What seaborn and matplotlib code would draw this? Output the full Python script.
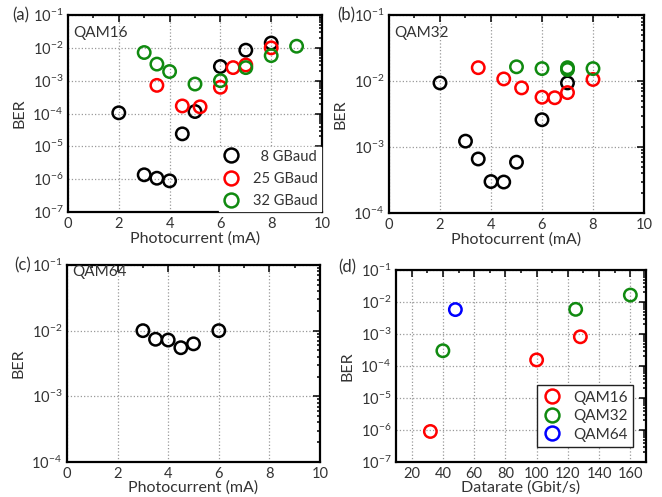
import numpy as np
import pandas as pd
import seaborn as sns
import matplotlib.pyplot as plt
from matplotlib.ticker import NullFormatter
from matplotlib.lines import Line2D

# (a) QAM16: BER vs photocurrent
a8_x = [2, 3, 3.5, 4, 4.5, 5, 6, 7, 8]
a8_ber = [1.05e-4, 1.36e-6, 1.07e-6, 8.9e-7, 2.4e-5, 1.15e-4, 2.7e-3, 8.5e-3, 1.4e-2]
a25_x = [3.5, 4.5, 5.2, 6, 6.5, 7, 8]
a25_ber = [7.2e-4, 1.7e-4, 1.6e-4, 6.3e-4, 2.5e-3, 3.0e-3, 1.0e-2]
a32_x = [3, 3.5, 4, 5, 6, 7, 8, 9]
a32_ber = [7.2e-3, 3.2e-3, 1.9e-3, 7.9e-4, 1.0e-3, 2.5e-3, 5.8e-3, 1.12e-2]

# (b) QAM32
b8_x = [2, 3, 3.5, 4, 4.5, 5, 6, 7]
b8_ber = [9.4e-3, 1.23e-3, 6.6e-4, 3.0e-4, 2.95e-4, 5.9e-4, 2.6e-3, 9.4e-3]
b25_x = [3.5, 4.5, 5.2, 6, 6.5, 7, 8]
b25_ber = [1.6e-2, 1.08e-2, 7.9e-3, 5.7e-3, 5.6e-3, 6.7e-3, 1.06e-2]
b32_x = [5, 6, 7, 7, 8]
b32_ber = [1.65e-2, 1.55e-2, 1.6e-2, 1.5e-2, 1.55e-2]

# (c) QAM64, 8 GBaud
c_x = [3, 3.5, 4, 4.5, 5, 6]
c_ber = [1.0e-2, 7.4e-3, 7.2e-3, 5.5e-3, 6.3e-3, 1.0e-2]

# (d) BER vs datarate
d16_rate = [32, 100, 128]
d16_ber = [9.0e-7, 1.55e-4, 8.2e-4]
d32_rate = [40, 125, 160]
d32_ber = [3.0e-4, 5.9e-3, 1.65e-2]
d64_rate = [48]
d64_ber = [5.8e-3]

baud_labels = ["  8 GBaud", "25 GBaud", "32 GBaud"]
qam_labels = ["QAM16", "QAM32", "QAM64"]
baud_colors = ["black", "#ff0000", "#108a10"]
qam_colors = ["#ff0000", "#108a10", "#0000ff"]

pc_ticks = [0, 2, 4, 6, 8, 10]
rate_ticks = [20, 40, 60, 80, 100, 120, 140, 160]


def frame(xs, ys, labels):
    parts = []
    for x, y, lab in zip(xs, ys, labels):
        parts.append(pd.DataFrame({"x": x, "ber": y, "series": lab}))
    return pd.concat(parts, ignore_index=True)


df_a = frame([a8_x, a25_x, a32_x], [a8_ber, a25_ber, a32_ber], baud_labels)
df_b = frame([b8_x, b25_x, b32_x], [b8_ber, b25_ber, b32_ber], baud_labels)
df_c = frame([c_x], [c_ber], baud_labels[:1])
df_d = frame([d16_rate, d32_rate, d64_rate], [d16_ber, d32_ber, d64_ber], qam_labels)

sns.set_style("white")
plt.rcParams["font.family"] = ["Lato", "DejaVu Sans"]
plt.rcParams["mathtext.default"] = "regular"

fig = plt.figure(figsize=(6.62, 4.97), dpi=100)
ax_a = fig.add_axes([0.1027, 0.5734, 0.3837, 0.3964])
ax_b = fig.add_axes([0.5876, 0.5714, 0.3852, 0.3980])
ax_c = fig.add_axes([0.1012, 0.0704, 0.3822, 0.3964])
ax_d = fig.add_axes([0.5982, 0.0704, 0.3776, 0.3863])


def draw(ax, df, labels, colors):
    sns.scatterplot(data=df, x="x", y="ber", hue="series", hue_order=labels,
                    palette=dict(zip(labels, colors)), s=80, linewidth=1.8,
                    ax=ax, legend=False, zorder=3)
    for coll in ax.collections:
        fc = coll.get_facecolors()
        coll.set_edgecolors(fc)
        coll.set_facecolors("none")


def style(ax, lo_exp, xlim, xticks, xlabel):
    ax.set_yscale("log")
    ax.set_ylim(10.0 ** lo_exp, 1e-1)
    ax.set_xlim(*xlim)
    step = xticks[1] - xticks[0]
    minor = [t for t in np.arange(xlim[0], xlim[1] + 1e-9, step / 2)
             if t not in xticks]
    ax.set_xticks(xticks)
    ax.set_xticks(minor, minor=True)
    exps = range(lo_exp, 0)
    ax.set_yticks([10.0 ** e for e in exps],
                  [f"$10^{{{e}}}$" for e in exps])
    ax.set_yticks([k * 10.0 ** e for e in range(lo_exp, -1) for k in range(2, 10)],
                  minor=True)
    ax.yaxis.set_minor_formatter(NullFormatter())
    ax.tick_params(which="both", direction="in", top=True, right=True,
                   labelsize=10.5, colors="#333333", width=1.1)
    ax.tick_params(which="both", color="black")
    ax.tick_params(which="major", length=5)
    ax.tick_params(which="minor", length=2.5)
    ax.grid(True, which="major", ls=":", color="#999999", lw=0.9)
    for sp in ax.spines.values():
        sp.set_linewidth(1.6)
        sp.set_color("black")
    ax.set_xlabel(xlabel, fontsize=11.5, color="#333333", labelpad=0)
    ax.set_ylabel("BER", fontsize=11.5, color="#333333", labelpad=4)


draw(ax_a, df_a, baud_labels, baud_colors)
draw(ax_b, df_b, baud_labels, baud_colors)
draw(ax_c, df_c, baud_labels[:1], baud_colors[:1])
draw(ax_d, df_d, qam_labels, qam_colors)

style(ax_a, -7, (0, 10), pc_ticks, "Photocurrent (mA)")
style(ax_b, -4, (0, 10), pc_ticks, "Photocurrent (mA)")
style(ax_c, -4, (0, 10), pc_ticks, "Photocurrent (mA)")
style(ax_d, -7, (10, 170), rate_ticks, "Datarate (Gbit/s)")

for ax, name, ty in [(ax_a, "QAM16", 0.909), (ax_b, "QAM32", 0.909), (ax_c, "QAM64", 0.962)]:
    ax.text(0.02, ty, name, transform=ax.transAxes, fontsize=11,
            color="#333333", va="center", ha="left")


def handles(colors):
    return [Line2D([], [], ls="", marker="o", ms=10, mfc="none", mec=c, mew=1.8)
            for c in colors]


leg_a = ax_a.legend(handles(baud_colors), baud_labels, loc="lower right",
                    bbox_to_anchor=(1.0, 0.0), frameon=True, fontsize=10.5,
                    handletextpad=0.9, labelspacing=0.55, borderpad=0.2,
                    borderaxespad=0.1, fancybox=False, framealpha=1,
                    edgecolor="white", handlelength=1.2)
leg_a.set_zorder(4)
for t in leg_a.get_texts():
    t.set_color("#333333")

leg_d = ax_d.legend(handles(qam_colors), qam_labels, loc="lower right",
                    bbox_to_anchor=(0.948, 0.078), frameon=True, fontsize=11,
                    handletextpad=0.8, labelspacing=0.3, borderpad=0.35,
                    borderaxespad=0, fancybox=False, framealpha=1,
                    edgecolor="#222222", handlelength=1.2)
leg_d.get_frame().set_linewidth(1.0)
for t in leg_d.get_texts():
    t.set_color("#333333")

for lab, x, y in [("(a)", 12, 15), ("(b)", 337, 15), ("(c)", 14, 265), ("(d)", 338, 267)]:
    fig.text(x / 662, 1 - y / 497, lab, fontsize=12, color="#333333",
             ha="left", va="center")

fig.savefig("out.png", dpi=100)
